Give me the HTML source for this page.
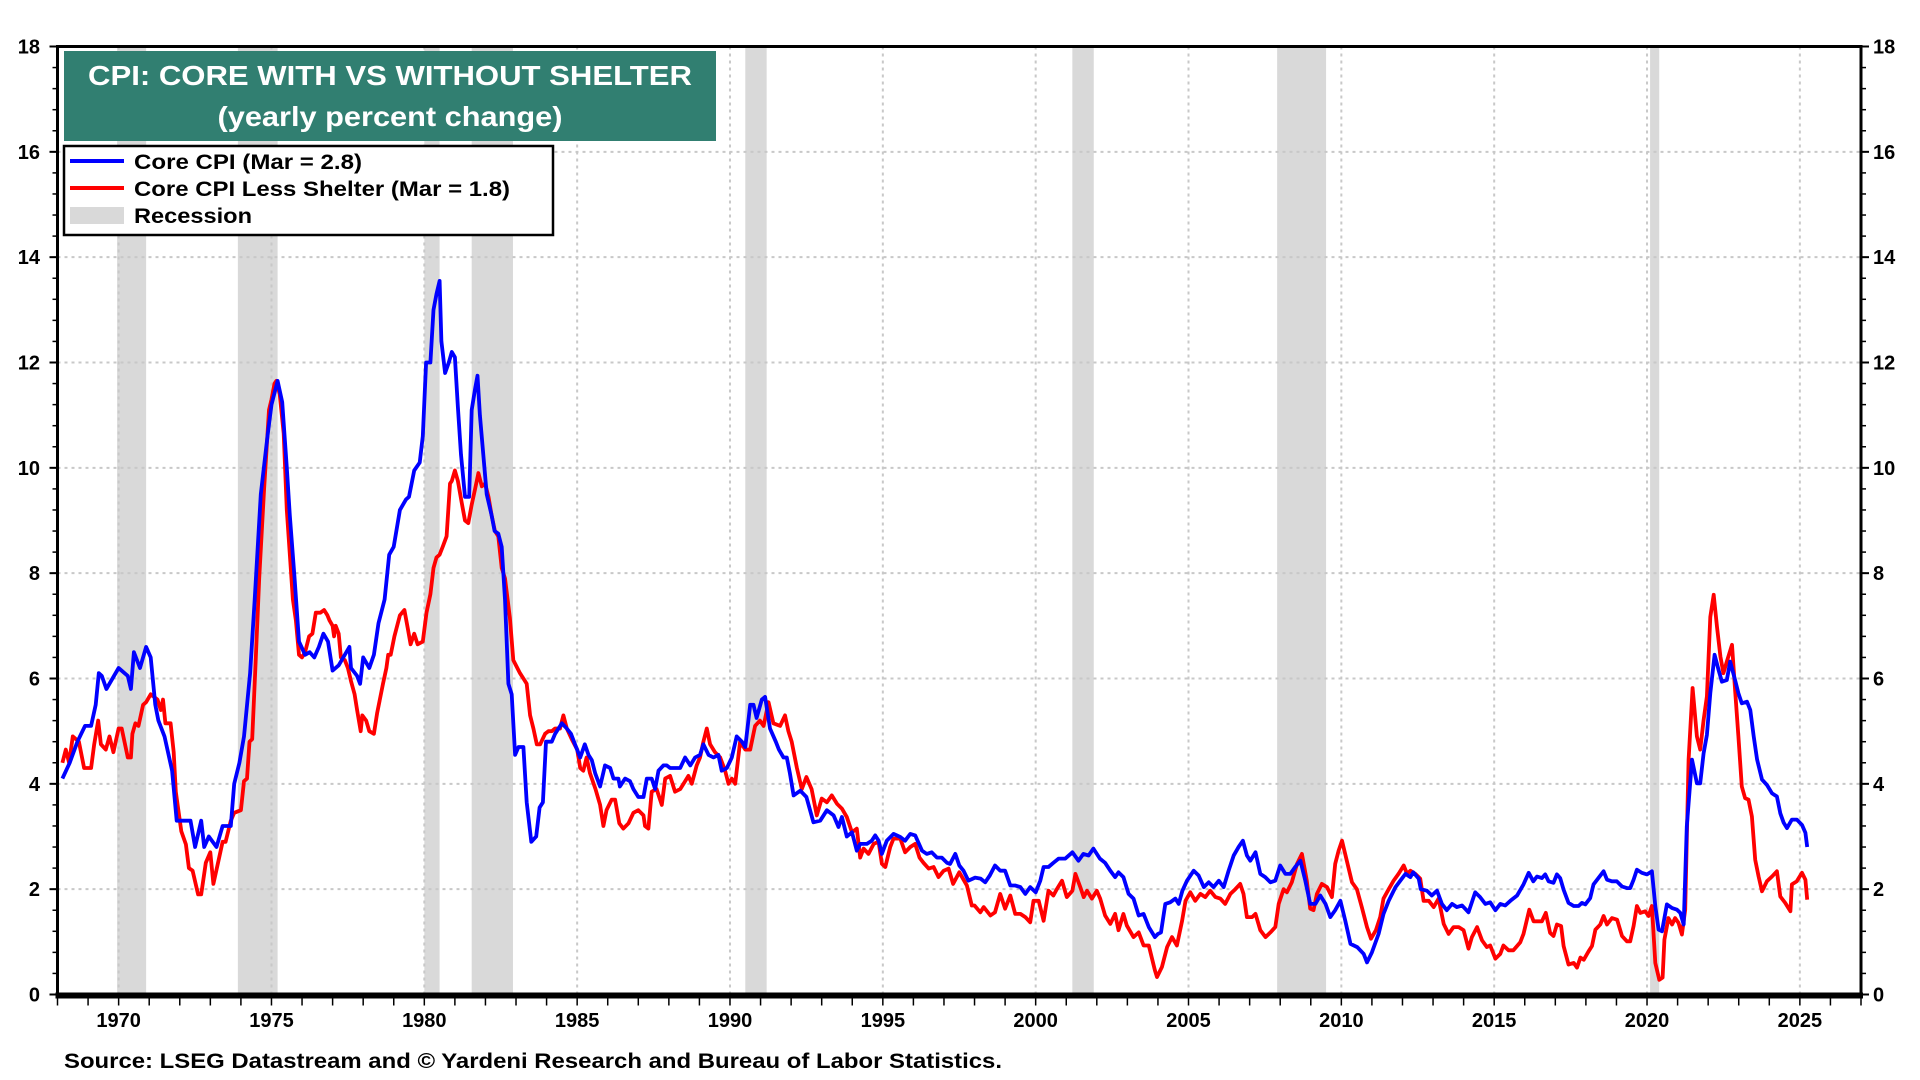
<!DOCTYPE html>
<html>
<head>
<meta charset="utf-8">
<style>
html,body{margin:0;padding:0;background:#fff;}
svg{display:block;font-family:"Liberation Sans",Arial,sans-serif;}
</style>
</head>
<body>
<svg id="chart" width="1920" height="1080" viewBox="0 0 1920 1080" xmlns="http://www.w3.org/2000/svg">
  <g id="recessions"></g>
  <g id="grid"></g>
  <g id="series"></g>
  <g id="axes"></g>
  <g>
    <rect x="64" y="51" width="652" height="90" fill="#317f71"/>
    <text x="390" y="85" text-anchor="middle" fill="#fff" font-size="28" font-weight="bold" textLength="604" lengthAdjust="spacingAndGlyphs">CPI: CORE WITH VS WITHOUT SHELTER</text>
    <text x="390" y="126" text-anchor="middle" fill="#fff" font-size="28" font-weight="bold" textLength="345" lengthAdjust="spacingAndGlyphs">(yearly percent change)</text>
  </g>
  <g>
    <rect x="64" y="146" width="489" height="89" fill="#fff" stroke="#000" stroke-width="2.5"/>
    <g>
      <line x1="70" y1="161" x2="124" y2="161" stroke="#0000ff" stroke-width="4"/>
      <text x="134" y="169" font-size="21" font-weight="bold" textLength="228" lengthAdjust="spacingAndGlyphs">Core CPI (Mar = 2.8)</text>
    </g>
    <g>
      <line x1="70" y1="188" x2="124" y2="188" stroke="#ff0000" stroke-width="4"/>
      <text x="134" y="196" font-size="21" font-weight="bold" textLength="376" lengthAdjust="spacingAndGlyphs">Core CPI Less Shelter (Mar = 1.8)</text>
    </g>
    <g>
      <rect x="70" y="207" width="54" height="17" fill="#d9d9d9"/>
      <text x="134" y="223" font-size="21" font-weight="bold" textLength="118" lengthAdjust="spacingAndGlyphs">Recession</text>
    </g>
  </g>
  <text x="64" y="1068" font-size="21" font-weight="bold" textLength="938" lengthAdjust="spacingAndGlyphs">Source: LSEG Datastream and © Yardeni Research and Bureau of Labor Statistics.</text>
</svg>
<script>
// ---- data ----
const recStart = [1969.95, 1973.9, 1980.0, 1981.55, 1990.5, 2001.2, 2007.9, 2020.1];
const recEnd   = [1970.9, 1975.2, 1980.5, 1982.9, 1991.2, 2001.9, 2009.5, 2020.4];
const yTicks = [0,2,4,6,8,10,12,14,16,18];
const xTicks = [1970,1975,1980,1985,1990,1995,2000,2005,2010,2015,2020,2025];

const coreYears = [1968.16,1968.4,1968.65,1968.9,1969.1,1969.25,1969.35,1969.45,1969.6,1969.8,1970.0,1970.3,1970.4,1970.5,1970.7,1970.9,1971.05,1971.2,1971.3,1971.5,1971.75,1971.9,1972.2,1972.35,1972.5,1972.7,1972.8,1972.95,1973.2,1973.4,1973.67,1973.78,1973.95,1974.1,1974.3,1974.45,1974.65,1974.87,1975.0,1975.2,1975.35,1975.5,1975.6,1975.75,1975.9,1976.1,1976.25,1976.4,1976.55,1976.7,1976.85,1977.0,1977.2,1977.4,1977.55,1977.6,1977.8,1977.9,1978.0,1978.2,1978.35,1978.5,1978.7,1978.85,1979.0,1979.2,1979.4,1979.5,1979.67,1979.85,1979.95,1980.06,1980.2,1980.3,1980.4,1980.5,1980.56,1980.68,1980.8,1980.9,1981.0,1981.1,1981.2,1981.33,1981.47,1981.55,1981.66,1981.74,1981.82,1981.93,1982.04,1982.2,1982.3,1982.42,1982.53,1982.64,1982.75,1982.86,1982.97,1983.08,1983.24,1983.35,1983.5,1983.66,1983.77,1983.88,1983.98,1984.17,1984.28,1984.39,1984.5,1984.66,1984.8,1984.93,1985.1,1985.25,1985.37,1985.48,1985.59,1985.75,1985.91,1986.08,1986.19,1986.35,1986.4,1986.57,1986.73,1986.84,1987.0,1987.17,1987.28,1987.44,1987.55,1987.66,1987.82,1987.93,1988.04,1988.25,1988.37,1988.53,1988.7,1988.86,1989.02,1989.13,1989.3,1989.46,1989.62,1989.73,1989.9,1990.06,1990.22,1990.39,1990.5,1990.66,1990.77,1990.87,1991.04,1991.15,1991.31,1991.5,1991.6,1991.75,1991.86,1991.96,1992.08,1992.3,1992.5,1992.73,1992.95,1993.17,1993.39,1993.55,1993.66,1993.82,1993.99,1994.15,1994.26,1994.48,1994.64,1994.75,1994.86,1994.97,1995.13,1995.35,1995.57,1995.73,1995.9,1996.06,1996.28,1996.44,1996.6,1996.77,1996.93,1997.1,1997.2,1997.37,1997.5,1997.64,1997.8,1998.02,1998.2,1998.35,1998.5,1998.67,1998.84,1999.0,1999.17,1999.33,1999.5,1999.66,1999.82,2000.0,2000.15,2000.26,2000.42,2000.58,2000.75,2000.97,2001.2,2001.4,2001.56,2001.73,2001.89,2002.1,2002.27,2002.44,2002.6,2002.71,2002.87,2003.04,2003.2,2003.37,2003.53,2003.7,2003.9,2004.0,2004.1,2004.24,2004.4,2004.57,2004.68,2004.8,2004.95,2005.17,2005.33,2005.5,2005.66,2005.82,2005.99,2006.15,2006.31,2006.48,2006.64,2006.78,2006.91,2007.02,2007.19,2007.35,2007.51,2007.68,2007.84,2008.0,2008.17,2008.33,2008.49,2008.66,2008.82,2008.98,2009.15,2009.31,2009.48,2009.64,2009.8,2009.97,2010.13,2010.3,2010.52,2010.73,2010.84,2011.0,2011.22,2011.38,2011.55,2011.77,2011.93,2012.1,2012.26,2012.35,2012.53,2012.6,2012.8,2012.96,2013.13,2013.29,2013.45,2013.62,2013.78,2013.95,2014.16,2014.38,2014.54,2014.71,2014.87,2015.04,2015.2,2015.36,2015.53,2015.75,2015.96,2016.13,2016.28,2016.4,2016.56,2016.67,2016.78,2016.94,2017.05,2017.16,2017.27,2017.43,2017.6,2017.76,2017.87,2017.98,2018.14,2018.25,2018.41,2018.58,2018.69,2018.85,2019.01,2019.18,2019.34,2019.45,2019.56,2019.67,2019.83,2020.0,2020.16,2020.27,2020.38,2020.49,2020.65,2020.82,2020.98,2021.09,2021.2,2021.3,2021.47,2021.63,2021.74,2021.85,2021.96,2022.07,2022.21,2022.34,2022.45,2022.61,2022.72,2022.88,2022.99,2023.1,2023.27,2023.38,2023.49,2023.6,2023.76,2023.92,2024.09,2024.25,2024.36,2024.47,2024.58,2024.74,2024.9,2025.07,2025.18,2025.24];
const coreVals = [4.1,4.4,4.8,5.1,5.1,5.5,6.1,6.05,5.8,6.0,6.2,6.05,5.8,6.5,6.2,6.6,6.4,5.5,5.2,4.9,4.25,3.3,3.3,3.3,2.8,3.3,2.8,3.0,2.8,3.2,3.2,4.0,4.4,4.9,6.1,7.5,9.5,10.6,11.2,11.65,11.25,10.0,9.1,7.95,6.7,6.45,6.5,6.4,6.6,6.85,6.7,6.15,6.25,6.45,6.6,6.2,6.05,5.9,6.4,6.2,6.45,7.05,7.5,8.35,8.5,9.2,9.4,9.45,9.95,10.1,10.6,12.0,12.0,13.0,13.3,13.55,12.4,11.8,12.0,12.2,12.1,11.15,10.25,9.45,9.45,11.1,11.5,11.75,11.0,10.25,9.5,9.1,8.8,8.75,8.5,7.5,5.9,5.7,4.55,4.7,4.7,3.65,2.9,3.0,3.55,3.65,4.8,4.8,4.95,5.05,5.15,5.05,4.95,4.75,4.5,4.75,4.55,4.45,4.2,3.95,4.35,4.3,4.1,4.1,3.95,4.1,4.05,3.9,3.75,3.75,4.1,4.1,3.9,4.25,4.35,4.35,4.3,4.3,4.3,4.5,4.35,4.5,4.55,4.75,4.55,4.5,4.55,4.25,4.3,4.5,4.9,4.8,4.7,5.5,5.5,5.25,5.6,5.65,5.05,4.8,4.65,4.5,4.5,4.2,3.78,3.87,3.75,3.27,3.3,3.5,3.4,3.18,3.37,3.0,3.08,2.73,2.86,2.86,2.92,3.02,2.92,2.67,2.92,3.05,2.99,2.92,3.05,3.02,2.73,2.67,2.7,2.6,2.6,2.5,2.48,2.67,2.45,2.35,2.16,2.22,2.2,2.13,2.26,2.45,2.35,2.35,2.07,2.07,2.04,1.91,2.04,1.94,2.16,2.42,2.42,2.5,2.58,2.58,2.7,2.54,2.67,2.64,2.77,2.58,2.5,2.35,2.23,2.32,2.23,1.91,1.82,1.5,1.53,1.28,1.09,1.15,1.18,1.72,1.75,1.82,1.72,1.97,2.16,2.35,2.26,2.04,2.13,2.04,2.16,2.04,2.35,2.64,2.8,2.92,2.64,2.54,2.7,2.29,2.23,2.13,2.16,2.45,2.29,2.29,2.42,2.54,2.16,1.72,1.72,1.88,1.72,1.47,1.6,1.78,1.4,0.96,0.9,0.77,0.61,0.8,1.15,1.53,1.78,2.04,2.16,2.29,2.23,2.32,2.2,2.0,1.97,1.88,1.97,1.72,1.6,1.72,1.66,1.69,1.56,1.94,1.85,1.72,1.75,1.6,1.72,1.69,1.78,1.88,2.09,2.31,2.15,2.24,2.21,2.28,2.15,2.12,2.28,2.21,1.99,1.74,1.68,1.68,1.74,1.71,1.83,2.09,2.21,2.34,2.18,2.15,2.15,2.05,2.02,2.02,2.18,2.37,2.31,2.28,2.34,1.68,1.23,1.2,1.71,1.64,1.61,1.55,1.33,3.19,4.46,4.01,4.01,4.58,4.93,5.72,6.45,6.16,5.94,5.97,6.32,5.97,5.72,5.53,5.56,5.4,4.9,4.46,4.08,3.98,3.82,3.76,3.44,3.26,3.16,3.32,3.32,3.22,3.07,2.8];

const lessYears = [1968.16,1968.27,1968.38,1968.5,1968.7,1968.87,1969.1,1969.2,1969.33,1969.42,1969.58,1969.7,1969.83,1970.0,1970.1,1970.3,1970.4,1970.45,1970.55,1970.65,1970.8,1970.9,1971.05,1971.27,1971.38,1971.45,1971.53,1971.7,1971.8,1971.87,1972.05,1972.2,1972.3,1972.42,1972.6,1972.7,1972.85,1973.0,1973.1,1973.27,1973.4,1973.5,1973.67,1973.78,1974.0,1974.1,1974.2,1974.28,1974.37,1974.48,1974.6,1974.76,1974.92,1975.0,1975.1,1975.16,1975.27,1975.4,1975.5,1975.7,1975.8,1975.9,1976.0,1976.1,1976.23,1976.34,1976.45,1976.6,1976.72,1976.83,1976.9,1977.0,1977.05,1977.1,1977.2,1977.27,1977.4,1977.5,1977.6,1977.72,1977.8,1977.92,1977.97,1978.1,1978.2,1978.35,1978.46,1978.65,1978.76,1978.82,1978.9,1979.02,1979.2,1979.35,1979.46,1979.55,1979.67,1979.78,1979.95,1980.07,1980.2,1980.3,1980.4,1980.5,1980.6,1980.73,1980.84,1980.9,1981.0,1981.1,1981.22,1981.33,1981.44,1981.55,1981.66,1981.77,1981.88,1981.99,1982.1,1982.2,1982.31,1982.42,1982.53,1982.64,1982.8,1982.91,1983.13,1983.24,1983.35,1983.46,1983.57,1983.68,1983.79,1983.95,1984.06,1984.17,1984.28,1984.44,1984.55,1984.66,1984.82,1985.0,1985.1,1985.2,1985.31,1985.42,1985.6,1985.75,1985.86,1985.96,1986.13,1986.24,1986.38,1986.51,1986.68,1986.84,1987.0,1987.17,1987.22,1987.33,1987.44,1987.6,1987.77,1987.88,1988.04,1988.2,1988.37,1988.53,1988.64,1988.75,1988.91,1989.02,1989.13,1989.24,1989.35,1989.51,1989.68,1989.84,1989.95,1990.06,1990.17,1990.33,1990.5,1990.66,1990.82,1990.98,1991.1,1991.26,1991.42,1991.64,1991.8,1991.91,1992.02,1992.19,1992.35,1992.5,1992.67,1992.84,1993.0,1993.17,1993.33,1993.5,1993.66,1993.82,1993.99,1994.15,1994.26,1994.37,1994.53,1994.7,1994.86,1994.97,1995.08,1995.24,1995.35,1995.57,1995.73,1995.9,1996.06,1996.2,1996.33,1996.5,1996.66,1996.82,1996.99,1997.15,1997.3,1997.5,1997.75,1997.91,1998.0,1998.19,1998.3,1998.52,1998.67,1998.84,1999.0,1999.17,1999.33,1999.5,1999.66,1999.82,1999.93,2000.1,2000.26,2000.42,2000.58,2000.69,2000.86,2001.02,2001.2,2001.3,2001.46,2001.57,2001.68,2001.84,2002.0,2002.11,2002.27,2002.44,2002.6,2002.71,2002.87,2002.98,2003.2,2003.37,2003.53,2003.7,2003.9,2003.97,2004.13,2004.3,2004.46,2004.62,2004.79,2004.9,2005.06,2005.22,2005.39,2005.55,2005.71,2005.88,2006.04,2006.2,2006.37,2006.53,2006.69,2006.8,2006.91,2007.08,2007.19,2007.35,2007.52,2007.68,2007.84,2007.95,2008.11,2008.22,2008.38,2008.55,2008.71,2008.87,2008.98,2009.09,2009.2,2009.36,2009.53,2009.69,2009.8,2009.91,2010.02,2010.18,2010.35,2010.51,2010.67,2010.84,2010.97,2011.13,2011.27,2011.38,2011.55,2011.71,2011.87,2012.04,2012.15,2012.26,2012.42,2012.58,2012.69,2012.86,2013.02,2013.18,2013.35,2013.51,2013.67,2013.84,2014.0,2014.16,2014.27,2014.44,2014.6,2014.76,2014.87,2015.04,2015.2,2015.3,2015.47,2015.63,2015.85,2015.96,2016.07,2016.15,2016.29,2016.4,2016.56,2016.69,2016.83,2016.94,2017.05,2017.19,2017.27,2017.43,2017.6,2017.71,2017.82,2017.93,2018.09,2018.2,2018.31,2018.47,2018.58,2018.69,2018.85,2019.02,2019.18,2019.34,2019.45,2019.56,2019.67,2019.78,2019.94,2020.05,2020.16,2020.27,2020.4,2020.51,2020.57,2020.7,2020.82,2020.92,2021.03,2021.14,2021.25,2021.36,2021.49,2021.63,2021.74,2021.85,2021.96,2022.07,2022.18,2022.29,2022.4,2022.5,2022.61,2022.78,2022.88,2022.99,2023.1,2023.21,2023.32,2023.43,2023.54,2023.65,2023.76,2023.92,2024.09,2024.25,2024.36,2024.52,2024.69,2024.74,2024.9,2025.07,2025.18,2025.24];
const lessVals = [4.4,4.65,4.4,4.9,4.8,4.3,4.3,4.75,5.2,4.75,4.65,4.9,4.6,5.05,5.05,4.5,4.5,4.95,5.15,5.1,5.5,5.55,5.7,5.6,5.4,5.6,5.15,5.15,4.6,3.85,3.1,2.85,2.4,2.35,1.9,1.9,2.5,2.7,2.1,2.55,2.9,2.9,3.3,3.45,3.5,4.05,4.1,4.8,4.85,6.3,7.9,9.6,11.1,11.3,11.6,11.65,11.4,10.65,9.2,7.5,7.1,6.45,6.4,6.5,6.8,6.85,7.25,7.25,7.3,7.2,7.1,7.0,6.8,7.0,6.85,6.4,6.35,6.2,5.95,5.7,5.4,5.0,5.3,5.2,5.0,4.95,5.35,5.9,6.2,6.45,6.45,6.8,7.2,7.3,6.95,6.65,6.85,6.65,6.7,7.25,7.6,8.1,8.3,8.35,8.5,8.7,9.7,9.75,9.95,9.75,9.35,9.0,8.95,9.3,9.6,9.9,9.65,9.7,9.45,9.1,8.8,8.7,8.1,7.9,7.15,6.35,6.1,6.0,5.9,5.3,5.05,4.75,4.75,4.95,5.0,5.0,5.05,5.05,5.3,5.05,4.85,4.65,4.3,4.25,4.5,4.2,3.9,3.6,3.2,3.5,3.7,3.7,3.25,3.15,3.25,3.45,3.5,3.4,3.2,3.15,3.85,3.9,3.6,4.1,4.15,3.85,3.9,4.05,4.15,4.0,4.35,4.5,4.8,5.05,4.75,4.6,4.5,4.25,4.0,4.1,4.0,4.8,4.65,4.65,5.1,5.2,5.1,5.55,5.15,5.1,5.3,5.0,4.8,4.3,3.9,4.13,3.9,3.4,3.72,3.65,3.78,3.62,3.53,3.37,3.08,3.15,2.6,2.77,2.67,2.86,2.9,2.48,2.42,2.8,2.96,2.96,2.7,2.8,2.86,2.6,2.5,2.39,2.42,2.23,2.35,2.39,2.1,2.32,2.07,1.69,1.69,1.56,1.66,1.5,1.56,1.91,1.63,1.88,1.53,1.53,1.47,1.37,1.78,1.78,1.4,1.97,1.88,2.0,2.16,1.85,1.97,2.29,2.04,1.85,1.97,1.82,1.97,1.82,1.5,1.34,1.53,1.22,1.53,1.31,1.09,1.18,0.93,0.93,0.46,0.33,0.52,0.9,1.09,0.93,1.4,1.78,1.94,1.78,1.91,1.85,1.97,1.85,1.82,1.72,1.91,2.0,2.1,1.91,1.47,1.47,1.53,1.22,1.09,1.18,1.28,1.72,2.0,1.94,2.13,2.48,2.67,2.16,1.63,1.6,1.91,2.1,2.04,1.85,2.48,2.73,2.92,2.54,2.13,2.0,1.66,1.28,1.06,1.22,1.47,1.82,2.0,2.16,2.29,2.45,2.29,2.35,2.29,2.2,1.78,1.78,1.66,1.82,1.34,1.15,1.28,1.28,1.22,0.87,1.09,1.28,1.03,0.9,0.93,0.68,0.77,0.93,0.84,0.84,0.99,1.15,1.42,1.61,1.39,1.39,1.39,1.55,1.17,1.11,1.33,1.3,0.92,0.57,0.6,0.51,0.7,0.66,0.82,0.92,1.23,1.33,1.49,1.33,1.45,1.42,1.11,1.01,1.01,1.3,1.68,1.55,1.58,1.49,1.68,0.6,0.28,0.32,1.04,1.45,1.33,1.45,1.36,1.14,1.61,4.46,5.82,4.9,4.65,5.21,5.66,7.17,7.59,6.98,6.42,6.1,6.32,6.64,5.78,4.9,3.95,3.73,3.7,3.38,2.56,2.24,1.96,2.15,2.24,2.34,1.86,1.74,1.58,2.09,2.15,2.31,2.18,1.8];

// ---- scales ----
const X0 = 1968.0, X1 = 2027.0, Y0 = 0, Y1 = 18;
const PL = 57.5, PR = 1861, PT = 46.5, PB = 994.5;
function xs(v){ return PL + (v - X0) / (X1 - X0) * (PR - PL); }
function ys(v){ return PB - (v - Y0) / (Y1 - Y0) * (PB - PT); }
const NS = 'http://www.w3.org/2000/svg';
function mk(tag, attrs, parent){ const e = document.createElementNS(NS, tag); for (const k in attrs) e.setAttribute(k, attrs[k]); parent.appendChild(e); return e; }

// recessions
const gRec = document.getElementById('recessions');
recStart.forEach((s, i) => {
  const r = mk('rect', {x: xs(s), y: PT, width: xs(recEnd[i]) - xs(s), height: PB - PT, fill: '#d9d9d9'}, gRec);
  
  
});

// grid
const gGrid = document.getElementById('grid');
yTicks.forEach(v => {
  if (v === 0 || v === 18) return;
  const l = mk('line', {x1: PL, x2: PR, y1: ys(v), y2: ys(v), stroke: '#c8c8c8', 'stroke-width': 2, 'stroke-dasharray': '3,4'}, gGrid);
  
  
});
xTicks.forEach(v => {
  const l = mk('line', {x1: xs(v), x2: xs(v), y1: PT, y2: PB, stroke: '#c8c8c8', 'stroke-width': 2, 'stroke-dasharray': '3,4'}, gGrid);
  
  
});

// series
const gSer = document.getElementById('series');
function pathFrom(xa, va){ return xa.map((x, i) => (i ? 'L' : 'M') + xs(x).toFixed(1) + ',' + ys(va[i]).toFixed(1)).join(''); }
const pRed = mk('path', {d: pathFrom(lessYears, lessVals), fill: 'none', stroke: '#ff0000', 'stroke-width': 3.8, 'stroke-linejoin': 'round'}, gSer);


const pBlue = mk('path', {d: pathFrom(coreYears, coreVals), fill: 'none', stroke: '#0000ff', 'stroke-width': 3.8, 'stroke-linejoin': 'round'}, gSer);


// redraw red on top where it was on top in original (keep blue on top overall, red re-drawn faintly not needed)

// axes
const gAx = document.getElementById('axes');
const frame = mk('rect', {x: PL, y: PT, width: PR - PL, height: PB - PT, fill: 'none', stroke: '#000', 'stroke-width': 3}, gAx);


const base = mk('line', {x1: PL - 2, x2: PR + 2, y1: PB + 1, y2: PB + 1, stroke: '#000', 'stroke-width': 6}, gAx);


// minor y ticks
for (let v = 0; v <= 18.001; v += 0.4) {
  mk('line', {x1: PL - 5, x2: PL, y1: ys(v), y2: ys(v), stroke: '#000', 'stroke-width': 1.5}, gAx);
  mk('line', {x1: PR, x2: PR + 5, y1: ys(v), y2: ys(v), stroke: '#000', 'stroke-width': 1.5}, gAx);
}
yTicks.forEach(v => {
  mk('line', {x1: PL - 8, x2: PL, y1: ys(v), y2: ys(v), stroke: '#000', 'stroke-width': 2}, gAx);
  mk('line', {x1: PR, x2: PR + 8, y1: ys(v), y2: ys(v), stroke: '#000', 'stroke-width': 2}, gAx);
  const tl = mk('text', {x: 40, y: ys(v) + 7, 'text-anchor': 'end', 'font-size': 20, 'font-weight': 'bold'}, gAx);
  tl.textContent = v;
  
  
  const tr = mk('text', {x: 1873, y: ys(v) + 7, 'text-anchor': 'start', 'font-size': 20, 'font-weight': 'bold'}, gAx);
  tr.textContent = v;
  
  
});
for (let yr = 1968; yr <= 2027; yr++) {
  mk('line', {x1: xs(yr), x2: xs(yr), y1: PB, y2: PB + 11, stroke: '#000', 'stroke-width': 1.5}, gAx);
}
xTicks.forEach(v => {
  const t = mk('text', {x: xs(v), y: 1027, 'text-anchor': 'middle', 'font-size': 20, 'font-weight': 'bold'}, gAx);
  t.textContent = v;
  
  
});
</script>
</body>
</html>
